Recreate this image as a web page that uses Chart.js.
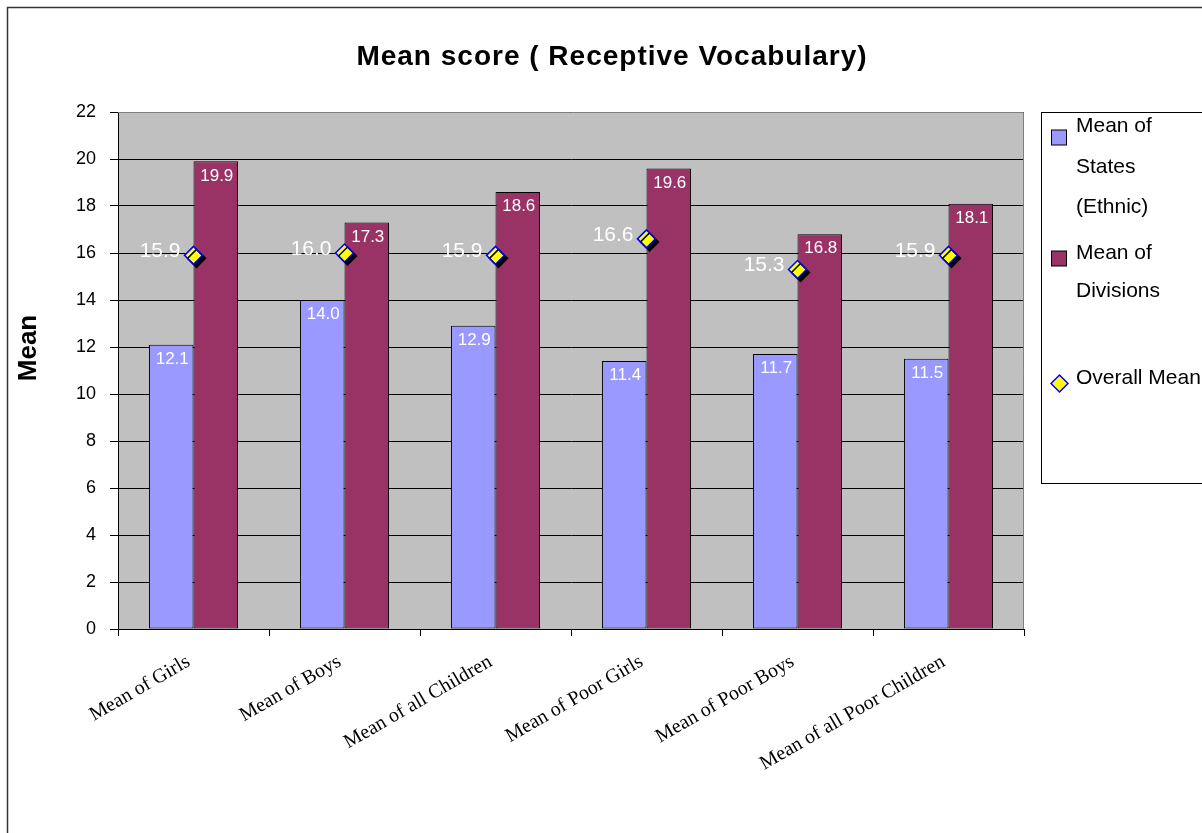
<!DOCTYPE html>
<html>
<head>
<meta charset="utf-8">
<script src="https://cdn.jsdelivr.net/npm/chart.js@4"></script>
<style>
  html, body { margin: 0; padding: 0; background: #fff; }
  #wrap { width: 1202px; height: 833px; }
</style>
</head>
<body>
<div id="wrap"><canvas id="chart" width="1202" height="833"></canvas></div>
<script>
  // chart values
  const categories = [
    "Mean of Girls",
    "Mean of Boys",
    "Mean of all Children",
    "Mean of Poor Girls",
    "Mean of Poor Boys",
    "Mean of all Poor Children",
  ];
  const statesMeans = [12.1, 14.0, 12.9, 11.4, 11.7, 11.5];
  const divisionMeans = [19.9, 17.3, 18.6, 19.6, 16.8, 18.1];
  const overallMeans = [15.9, 16.0, 15.9, 16.6, 15.3, 15.9];
  const yMin = 0, yMax = 22, yStep = 2;

  const titleText = "Mean score ( Receptive Vocabulary)";
  const yTitleText = "Mean";
  const legendItems = [
    { lines: ["Mean of", "States", "(Ethnic)"], color: "#9999FF", kind: "box" },
    { lines: ["Mean of", "Divisions"], color: "#993366", kind: "box" },
    { lines: ["Overall Mean"], color: "#FFFF00", kind: "diamond" },
  ];

  const SANS = "'Liberation Sans', Arial, sans-serif";
  const SERIF = "'Liberation Serif', 'Times New Roman', serif";

  // gray plot background, outer frame, title, axis title and legend
  const decorations = {
    id: "decorations",
    beforeDraw(chart) {
      const { ctx, chartArea: a } = chart;
      ctx.save();
      ctx.fillStyle = "#C0C0C0";
      ctx.fillRect(a.left, a.top, a.right - a.left, a.bottom - a.top);
      ctx.restore();
    },
    afterDraw(chart) {
      const { ctx, chartArea: a } = chart;
      ctx.save();
      // plot border (top / right)
      ctx.strokeStyle = "#808080";
      ctx.lineWidth = 1;
      ctx.beginPath();
      ctx.moveTo(a.left, a.top + 0.5);
      ctx.lineTo(a.right - 0.5, a.top + 0.5);
      ctx.lineTo(a.right - 0.5, a.bottom);
      ctx.stroke();

      // outer frame
      ctx.strokeStyle = "#333";
      ctx.lineWidth = 1.5;
      ctx.beginPath();
      ctx.moveTo(7.5, 840);
      ctx.lineTo(7.5, 7.5);
      ctx.lineTo(1210, 7.5);
      ctx.stroke();

      // title
      ctx.fillStyle = "#000";
      ctx.font = "bold 28px " + SANS;
      ctx.letterSpacing = "1px";
      ctx.textAlign = "center";
      ctx.textBaseline = "middle";
      ctx.fillText(titleText, 612, 57);
      ctx.letterSpacing = "0px";

      // y axis title
      ctx.save();
      ctx.translate(29, 348);
      ctx.rotate(-Math.PI / 2);
      ctx.font = "bold 26px " + SANS;
      ctx.fillText(yTitleText, 0, 0);
      ctx.restore();

      // legend box
      ctx.strokeStyle = "#000";
      ctx.lineWidth = 1;
      ctx.strokeRect(1041.5, 112.5, 200, 371);
      const textTops = [[126, 167, 207], [253, 291], [378]];
      const markY = [137.5, 258.5, 383.5];
      ctx.font = "21px " + SANS;
      ctx.textAlign = "left";
      legendItems.forEach((item, i) => {
        if (item.kind === "box") {
          ctx.fillStyle = item.color;
          ctx.fillRect(1051.5, markY[i] - 7.5, 15, 15);
          ctx.strokeStyle = "#000";
          ctx.strokeRect(1051.5, markY[i] - 7.5, 15, 15);
        } else {
          ctx.beginPath();
          ctx.moveTo(1059.5, markY[i] - 8.5);
          ctx.lineTo(1068, markY[i]);
          ctx.lineTo(1059.5, markY[i] + 8.5);
          ctx.lineTo(1051, markY[i]);
          ctx.closePath();
          ctx.fillStyle = item.color;
          ctx.fill();
          ctx.strokeStyle = "#0000FF";
          ctx.lineWidth = 1.5;
          ctx.stroke();
          ctx.lineWidth = 1;
        }
        ctx.fillStyle = "#000";
        item.lines.forEach((line, j) => ctx.fillText(line, 1076, textTops[i][j]));
      });
      ctx.restore();
    },
  };

  // black drop shadow under the diamonds
  const diamondShadow = {
    id: "diamondShadow",
    beforeDatasetDraw(chart, args) {
      if (args.index !== 2) return;
      const ctx = chart.ctx;
      ctx.save();
      ctx.shadowColor = "#000";
      ctx.shadowOffsetX = 3;
      ctx.shadowOffsetY = 3;
      ctx.shadowBlur = 0;
    },
    afterDatasetDraw(chart, args) {
      if (args.index !== 2) return;
      chart.ctx.restore();
    },
  };

  // white value labels
  const valueLabels = {
    id: "valueLabels",
    afterDatasetsDraw(chart) {
      const ctx = chart.ctx;
      ctx.save();
      ctx.fillStyle = "#fff";
      [0, 1].forEach((di) => {
        const meta = chart.getDatasetMeta(di);
        const vals = chart.data.datasets[di].data;
        ctx.font = "17px " + SANS;
        ctx.textAlign = "center";
        ctx.textBaseline = "top";
        meta.data.forEach((bar, i) => {
          ctx.fillText(vals[i].toFixed(1), bar.x + 1, bar.y + 6);
        });
      });
      const pm = chart.getDatasetMeta(2);
      ctx.font = "21px " + SANS;
      ctx.textAlign = "right";
      ctx.textBaseline = "middle";
      pm.data.forEach((pt, i) => {
        ctx.fillText(overallMeans[i].toFixed(1), pt.x - 13, pt.y - 4);
      });
      ctx.restore();
    },
  };

  new Chart(document.getElementById("chart"), {
    type: "bar",
    data: {
      labels: categories,
      datasets: [
        {
          label: "Mean of States (Ethnic)",
          data: statesMeans,
          backgroundColor: "#9999FF",
          borderColor: "#000",
          borderWidth: 1,
          borderSkipped: false,
          categoryPercentage: 0.59,
          barPercentage: 1.0,
          order: 2,
        },
        {
          label: "Mean of Divisions",
          data: divisionMeans,
          backgroundColor: "#993366",
          borderColor: "#000",
          borderWidth: 1,
          borderSkipped: false,
          categoryPercentage: 0.59,
          barPercentage: 1.0,
          order: 2,
        },
        {
          type: "line",
          label: "Overall Mean",
          data: overallMeans,
          showLine: false,
          pointStyle: "rectRot",
          pointRadius: 9,
          pointHoverRadius: 9,
          pointBackgroundColor: "#FFFF00",
          pointBorderColor: "#0000FF",
          pointBorderWidth: 1.5,
          order: 1,
        },
      ],
    },
    options: {
      responsive: false,
      animation: false,
      events: [],
      layout: { padding: { left: 0, top: 112, right: 178, bottom: 0 } },
      plugins: {
        legend: { display: false },
        title: { display: false },
        tooltip: { enabled: false },
      },
      scales: {
        x: {
          afterFit(scale) { scale.height = 204; },
          border: { color: "#000", width: 1 },
          grid: {
            display: true,
            drawOnChartArea: false,
            tickLength: 7,
            color: "#000",
          },
          ticks: {
            color: "#000",
            font: { family: SERIF, size: 20 },
            minRotation: 30,
            maxRotation: 30,
            autoSkip: false,
            padding: 14,
            labelOffset: -5,
          },
        },
        y: {
          min: yMin,
          max: yMax,
          afterFit(scale) { scale.width = 118; },
          border: { color: "#000", width: 1 },
          grid: { color: "#000", lineWidth: 1, tickLength: 8 },
          ticks: {
            stepSize: yStep,
            color: "#000",
            font: { family: SANS, size: 18 },
            padding: 14,
          },
        },
      },
    },
    plugins: [decorations, diamondShadow, valueLabels],
  });
</script>
</body>
</html>
